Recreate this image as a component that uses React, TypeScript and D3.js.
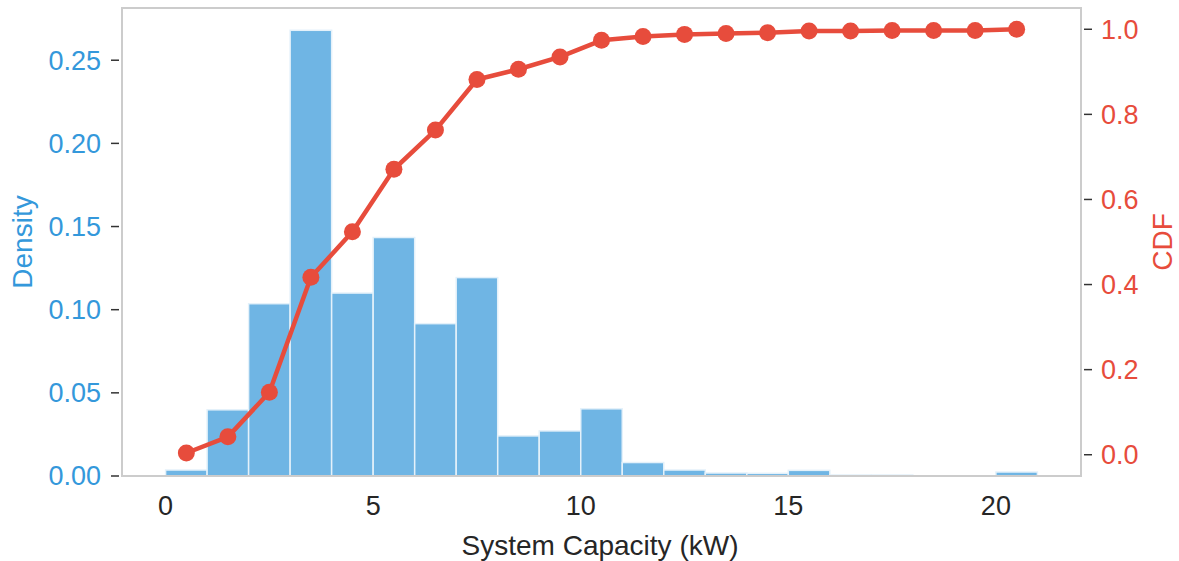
import React from "react";
import * as d3 from "d3";

const binStarts = [0,1,2,3,4,5,6,7,8,9,10,11,12,13,14,15,16,17,18,19,20];
const density = [0.0036,0.0398,0.1036,0.268,0.110,0.1434,0.0916,0.1193,0.0241,0.0271,0.0404,0.0081,0.0036,0.0018,0.0016,0.0034,0.0006,0.0006,0,0,0.0024];
const cdfX = [0.5,1.5,2.5,3.5,4.5,5.5,6.5,7.5,8.5,9.5,10.5,11.5,12.5,13.5,14.5,15.5,16.5,17.5,18.5,19.5,20.5];
const cdfY = [0.004,0.042,0.147,0.417,0.524,0.671,0.763,0.882,0.906,0.935,0.974,0.983,0.988,0.990,0.992,0.996,0.996,0.997,0.997,0.997,1.0];
const xTicks = [0,5,10,15,20];
const leftTicks = [0,0.05,0.10,0.15,0.20,0.25];
const rightTicks = [0,0.2,0.4,0.6,0.8,1.0];

const W = 1179, H = 561;
const L = 122, R = 1081, T = 8, B = 476;
const BLUE = "#3498db";
const RED = "#e74c3c";
const FONT = "'Liberation Sans', Arial, sans-serif";

export default function App() {
  const x = d3.scaleLinear().domain([-1.05, 22.05]).range([L, R]);
  const yL = d3.scaleLinear().domain([0, 0.2814]).range([B, T]);
  const yR = d3.scaleLinear().domain([-0.05, 1.05]).range([B, T]);
  const line = d3.line<number>().x((d, i) => x(cdfX[i])).y((d) => yR(d));

  return (
    <svg width={W} height={H} style={{ position: "absolute", left: 0, top: 0 }} fontFamily={FONT}>
      <rect width={W} height={H} fill="#fff" />
      {binStarts.map((s, i) => (
        <rect key={i} x={x(s)} y={yL(density[i])} width={x(s + 1) - x(s)} height={yL(0) - yL(density[i])}
          fill="#6fb5e4" stroke="#e4f1fa" strokeWidth={1.5} />
      ))}
      <path d={line(cdfY) || ""} fill="none" stroke={RED} strokeWidth={4.5} strokeLinejoin="round" />
      {cdfY.map((v, i) => (
        <circle key={i} cx={x(cdfX[i])} cy={yR(v)} r={8.5} fill={RED} />
      ))}
      <rect x={L} y={T} width={R - L} height={B - T} fill="none" stroke="#cccccc" strokeWidth={2} />
      {leftTicks.map((t) => (
        <g key={t}>
          <line x1={L - 11} x2={L - 3} y1={yL(t)} y2={yL(t)} stroke="#333" strokeWidth={1.5} />
          <text x={L - 21} y={yL(t)} dy="0.35em" textAnchor="end" fontSize={27} fill={BLUE}>{t.toFixed(2)}</text>
        </g>
      ))}
      {rightTicks.map((t) => (
        <g key={t}>
          <line x1={R + 3} x2={R + 11} y1={yR(t)} y2={yR(t)} stroke="#333" strokeWidth={1.5} />
          <text x={R + 20} y={yR(t)} dy="0.35em" textAnchor="start" fontSize={27} fill={RED}>{t.toFixed(1)}</text>
        </g>
      ))}
      {xTicks.map((t) => (
        <text key={t} x={x(t)} y={515} textAnchor="middle" fontSize={27} fill="#262626">{t}</text>
      ))}
      <text x={600} y={555} textAnchor="middle" fontSize={28} fill="#262626">System Capacity (kW)</text>
      <text transform={`translate(32,${(T + B) / 2}) rotate(-90)`} textAnchor="middle" fontSize={28} fill={BLUE}>Density</text>
      <text transform={`translate(1172,${(T + B) / 2}) rotate(-90)`} textAnchor="middle" fontSize={28} fill={RED}>CDF</text>
    </svg>
  );
}
